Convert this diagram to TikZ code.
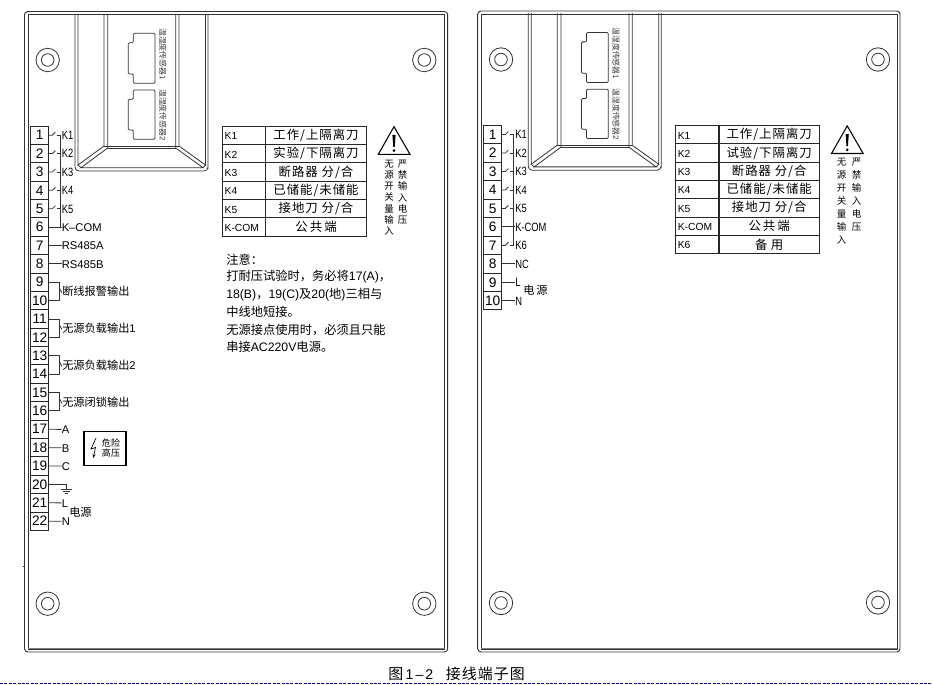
\documentclass[tikz,border=0pt]{standalone}
\usepackage{fontspec}
\setmainfont{Liberation Sans}
\newfontfamily\lat{Liberation Sans}
\newfontfamily\latn[FakeStretch=0.78]{Liberation Sans}
\newfontfamily\latcap[LetterSpace=14]{Liberation Sans}
\newfontfamily\cjk{Noto Sans CJK SC}
\newfontfamily\cjksp[LetterSpace=8]{Noto Sans CJK SC}
\newfontfamily\cjkcap[LetterSpace=7]{Noto Sans CJK SC}
\newcommand\fcomma{\char"FF0C\relax}
\newcommand\fcolon{\char"FF1A\relax}
\usetikzlibrary{arrows.meta,calc}
\tikzset{
 ln/.style={line width=0.6pt,draw=black!80},
 term/.style={draw=black!85,line width=0.7pt,minimum width=13.5pt,minimum height=13.78pt,inner sep=0pt,font=\lat\fontsize{10.3}{12}\selectfont},
 lab/.style={anchor=west,inner sep=0pt,text height=1.5ex,text depth=.25ex,font=\lat\fontsize{8.4}{10}\selectfont},
 labk/.style={lab,font=\latn\fontsize{9}{10}\selectfont},
 labr/.style={lab,font=\latn\fontsize{9}{10}\selectfont},
 labc/.style={anchor=west,inner sep=0pt,font=\cjk\fontsize{8.4}{10}\selectfont},
 kcell/.style={draw=black!85,line width=0.65pt,minimum height=13.72pt,text width=29pt,inner xsep=1.8pt,inner ysep=0pt,align=left,text height=1.5ex,text depth=.25ex,font=\lat\fontsize{7.7}{10}\selectfont},
 vcell/.style={draw=black!85,line width=0.65pt,minimum width=75.45pt,minimum height=13.72pt,inner sep=0pt,font=\cjksp\fontsize{9.3}{11}\selectfont},
 vtxt/.style={anchor=north,align=center,inner sep=0pt,font=\cjk\fontsize{7.1}{8.47}\selectfont},
 vtxtb/.style={anchor=north,align=center,inner sep=0pt,font=\cjk\fontsize{7.1}{9.75}\selectfont},
 note/.style={anchor=west,inner sep=0pt,font=\cjk\fontsize{9.2}{11}\selectfont},
 sens/.style={rotate=-90,inner sep=0pt,text=black!75,font=\cjk\fontsize{5.9}{7}\selectfont},
}
\newcommand\trow[4]{%
 \node[kcell] (#1k#2) at (244,{126.3+18.3*(#2-0.5)}) {#3};
 \node[vcell] (#1v#2) at (316,{126.3+18.3*(#2-0.5)}) {#4};}
\newcommand\channel[1]{%
 \draw[ln] (75,14) -- (75,165) [rounded corners=3pt] -- (75,171) -- (208,171) -- (208,165) [sharp corners] -- (208,14);
 \draw[ln] (78,14) -- (78,165) -- (104,146) -- (104,14);
 \draw[ln] (107.7,14) -- (107.7,148) -- (81,167.7) -- (203,167.7) -- (175.7,148) -- (175.7,14);
 \draw[ln] (179,14) -- (179,146) -- (205.5,165) -- (205.5,14);
 \draw[ln] (104,146) -- (179,146);
 \draw[ln] (107.7,148) -- (175.7,148);
 \draw[ln] (78,165) -- (81,167.7);
 \draw[ln] (205.5,165) -- (203,167.7);
 \draw[ln,rounded corners=0.8pt] (155,33.3) -- (133.3,33.3) -- (133.3,42.7) -- (128.3,42.7) -- (128.3,74) -- (133.3,74) -- (133.3,83.3) -- (155,83.3) -- cycle;
 \draw[ln,rounded corners=0.8pt] (155,90) -- (133.3,90) -- (133.3,99.3) -- (128.3,99.3) -- (128.3,130) -- (133.3,130) -- (133.3,139.3) -- (155,139.3) -- cycle;
 \node[sens] (#1s1) at (163,54) {温湿度传感器\lat 1};
 \node[sens] (#1s2) at (163,115) {温湿度传感器\lat 2};
}
\newcommand\warn{%
 \draw[line width=0.8pt,draw=black,line join=miter] (394,126.7) -- (378.3,154.3) -- (410,154.3) -- cycle;
 \fill[black] (392.4,135) -- (395.6,135) -- (394.7,147) -- (393.3,147) -- cycle;
 \fill[black] (394,150.6) circle[radius=1.5];
}
\newcommand\switches[2]{% prefix, list
 \foreach \i in {#2} {
  \draw[ln] (#1\i.east) -- ++(3.2,0) -- ++(3,-3);
  \draw[ln] ([xshift=-3.6pt]#1k\i.west) -- ([xshift=-1pt]#1k\i.west);
 }}
\begin{document}
\begin{tikzpicture}[x=0.75pt,y=-0.75pt]
\useasboundingbox (0,0) rectangle (933,685);
\fill[white] (0,0) rectangle (933,685);

%% ---------- left panel ----------
\draw[ln,line width=0.7pt,rounded corners=2.5pt] (24.5,11.5) rectangle (447.7,652);
\draw[ln,line width=0.7pt] (28,14.5) rectangle (444.7,649);
\draw[black!50,line width=0.7pt] (28,648.2) -- (444.7,648.2);
\draw[ln] (23.2,566) -- (24.5,566);
\foreach \p in {(47.7,60),(47.7,603.7),(424.3,60),(424.3,603.7)} {
 \draw[ln] \p circle[radius=11.7];
 \draw[ln] \p circle[radius=6.3];
}
\channel{a}
\foreach \n in {1,...,22} \node[term] (a\n) at (39.7,{126+18.38*(\n-0.5)}) {\n};

\foreach \i in {1,...,5} \node[labk] (ak\i) at (61.5,{126+18.38*(\i-0.5)}) {K\i};
\node[lab] (akc) at (61.5,{126+18.38*5.5}) {K–COM};
\switches{a}{1,2,3,4,5}
\draw[ln] ([xshift=-1pt]ak1.west) -- ([xshift=-1pt]akc.west);
\draw[ln] (a6.east) -- (akc.west);
\node[lab] (a485a) at (61.5,{126+18.38*6.5}) {RS485A};
\node[lab] (a485b) at (61.5,{126+18.38*7.5}) {RS485B};
\draw[ln] (a7.east) -- (a485a.west);
\draw[ln] (a8.east) -- (a485b.west);

\node[labc] (ap1) at (62,291.5) {断线报警输出};
\node[labc] (ap2) at (62,328) {无源负载输出\lat 1};
\node[labc] (ap3) at (62,365) {无源负载输出\lat 2};
\node[labc] (ap4) at (62,402) {无源闭锁输出};
\foreach \u/\v/\q in {9/10/1,11/12/2,13/14/3,15/16/4} {
 \draw[ln] (a\u.east) -- ++(10,0) |- (a\v.east);
 \draw[ln] ([shift={(10,5.5)}]a\u.east) -- ([shift={(0,1.5)}]ap\q.west);
}
\foreach \n/\t/\y in {17/A/429.4,18/B/447.7,19/C/466.1,21/L/502.9,22/N/521.3} {
 \node[lab] (al\n) at (61.5,\y) {\t};
 \draw[ln] (a\n.east) -- (al\n.west);
}
\draw[ln] (a20.east) -- ++(17.3,0) -- ++(0,4.5) coordinate (agnd);
\draw[ln] ([xshift=-4.2pt]agnd) -- ([xshift=4.2pt]agnd);
\draw[ln] ([shift={(-3.8,2.6)}]agnd) -- ([shift={(3.8,2.6)}]agnd);
\draw[ln] ([shift={(-1.5,4.6)}]agnd) -- ([shift={(1.5,4.6)}]agnd);
\node[labc] (apw) at (69,512.7) {电源};

\node[draw=black,line width=1pt,minimum width=31.5pt,minimum height=25.8pt,inner sep=0pt] (danger) at (105,448.5) {};
\node[inner sep=0pt,align=center,font=\cjk\fontsize{6.8}{7.6}\selectfont] (dtxt) at (111,448.3) {危险\\高压};
\draw[line width=0.5pt,-{Stealth[length=3pt,width=2.4pt]}] (96,438) -- (91,449) -- (95.5,447.5) -- (93.3,458);

\trow{a}{1}{K1}{工作/上隔离刀}
\trow{a}{2}{K2}{实验/下隔离刀}
\trow{a}{3}{K3}{断路器 分/合}
\trow{a}{4}{K4}{已储能/未储能}
\trow{a}{5}{K5}{接地刀 分/合}
\trow{a}{6}{K-COM}{公\,共\,端}
\warn
\node[vtxt] (aw1) at (389,159.5) {无\\源\\开\\关\\量\\输\\入};
\node[vtxt] (aw2) at (402.7,159.5) {严\\禁\\输\\入\\电\\压};

\node[note] (an0) at (226,260) {注意\fcolon};
\node[note] (an1) at (226,276.7) {打耐压试验时\fcomma 务必将\lat 17(A)\cjk\fcomma};
\node[note] (an2) at (226,294.3) {\lat 18(B)\cjk\fcomma\lat 19(C)\cjk 及\lat 20(\cjk 地\lat )\cjk 三相与};
\node[note] (an3) at (226,311.5) {中线地短接。};
\node[note] (an4) at (226,330) {无源接点使用时\fcomma 必须且只能};
\node[note] (an5) at (226,347.3) {串接\lat AC220V\cjk 电源。};

%% ---------- right panel ----------
\draw[ln,line width=0.7pt,rounded corners=2.5pt] (477.7,11) rectangle (900,652);
\draw[ln,line width=0.7pt] (481,14.7) rectangle (897,649);
\draw[black!50,line width=0.7pt] (481,648.2) -- (897,648.2);
\foreach \p in {(501,59.5),(501,603),(878,59.5),(878,602.5)} {
 \draw[ln] \p circle[radius=11.7];
 \draw[ln] \p circle[radius=6.3];
}
\begin{scope}[shift={(453.2,-0.8)}]
\channel{b}
\trow{b}{1}{K1}{工作/上隔离刀}
\trow{b}{2}{K2}{试验/下隔离刀}
\trow{b}{3}{K3}{断路器 分/合}
\trow{b}{4}{K4}{已储能/未储能}
\trow{b}{5}{K5}{接地刀 分/合}
\trow{b}{6}{K-COM}{公\,共\,端}
\trow{b}{7}{K6}{备\;用}
\warn
\end{scope}
\node[vtxtb] (bw1) at (841.7,157.5) {无\\源\\开\\关\\量\\输\\入};
\node[vtxtb] (bw2) at (856.7,157.5) {严\\禁\\输\\入\\电\\压};

\foreach \n in {1,...,10} \node[term] (b\n) at (492.7,{125.3+18.47*(\n-0.5)}) {\n};
\foreach \i in {1,...,5} \node[labr] (bk\i) at (515,{125.3+18.47*(\i-0.5)}) {K\i};
\node[labr] (bk7) at (515,{125.3+18.47*6.5}) {K6};
\node[labr] (bkc) at (515,{125.3+18.47*5.5}) {K-COM};
\switches{b}{1,2,3,4,5,7}
\draw[ln] ([xshift=-1pt]bk1.west) -- ([xshift=-1pt]bk7.west);
\draw[ln] (b6.east) -- (bkc.west);
\foreach \n/\t in {8/NC,9/L,10/N} {
 \node[labr] (bl\n) at (515,{125.3+18.47*(\n-0.5)}) {\t};
 \draw[ln] (b\n.east) -- (bl\n.west);
}
\node[labc] (bpw) at (523,290.7) {电\,源};

%% ---------- caption ----------
\node[anchor=west,inner sep=0pt,font=\cjkcap\fontsize{11.2}{13}\selectfont] (cap) at (388,674) {图\,{\latcap\fontsize{10.6}{13}\selectfont 1–2}\hspace{0.85em}接线端子图};
\draw[dash pattern=on 2.2pt off 1.1pt,line width=0.5pt,draw=blue!65!black] (0,683) -- (933,683);
\end{tikzpicture}
\end{document}
